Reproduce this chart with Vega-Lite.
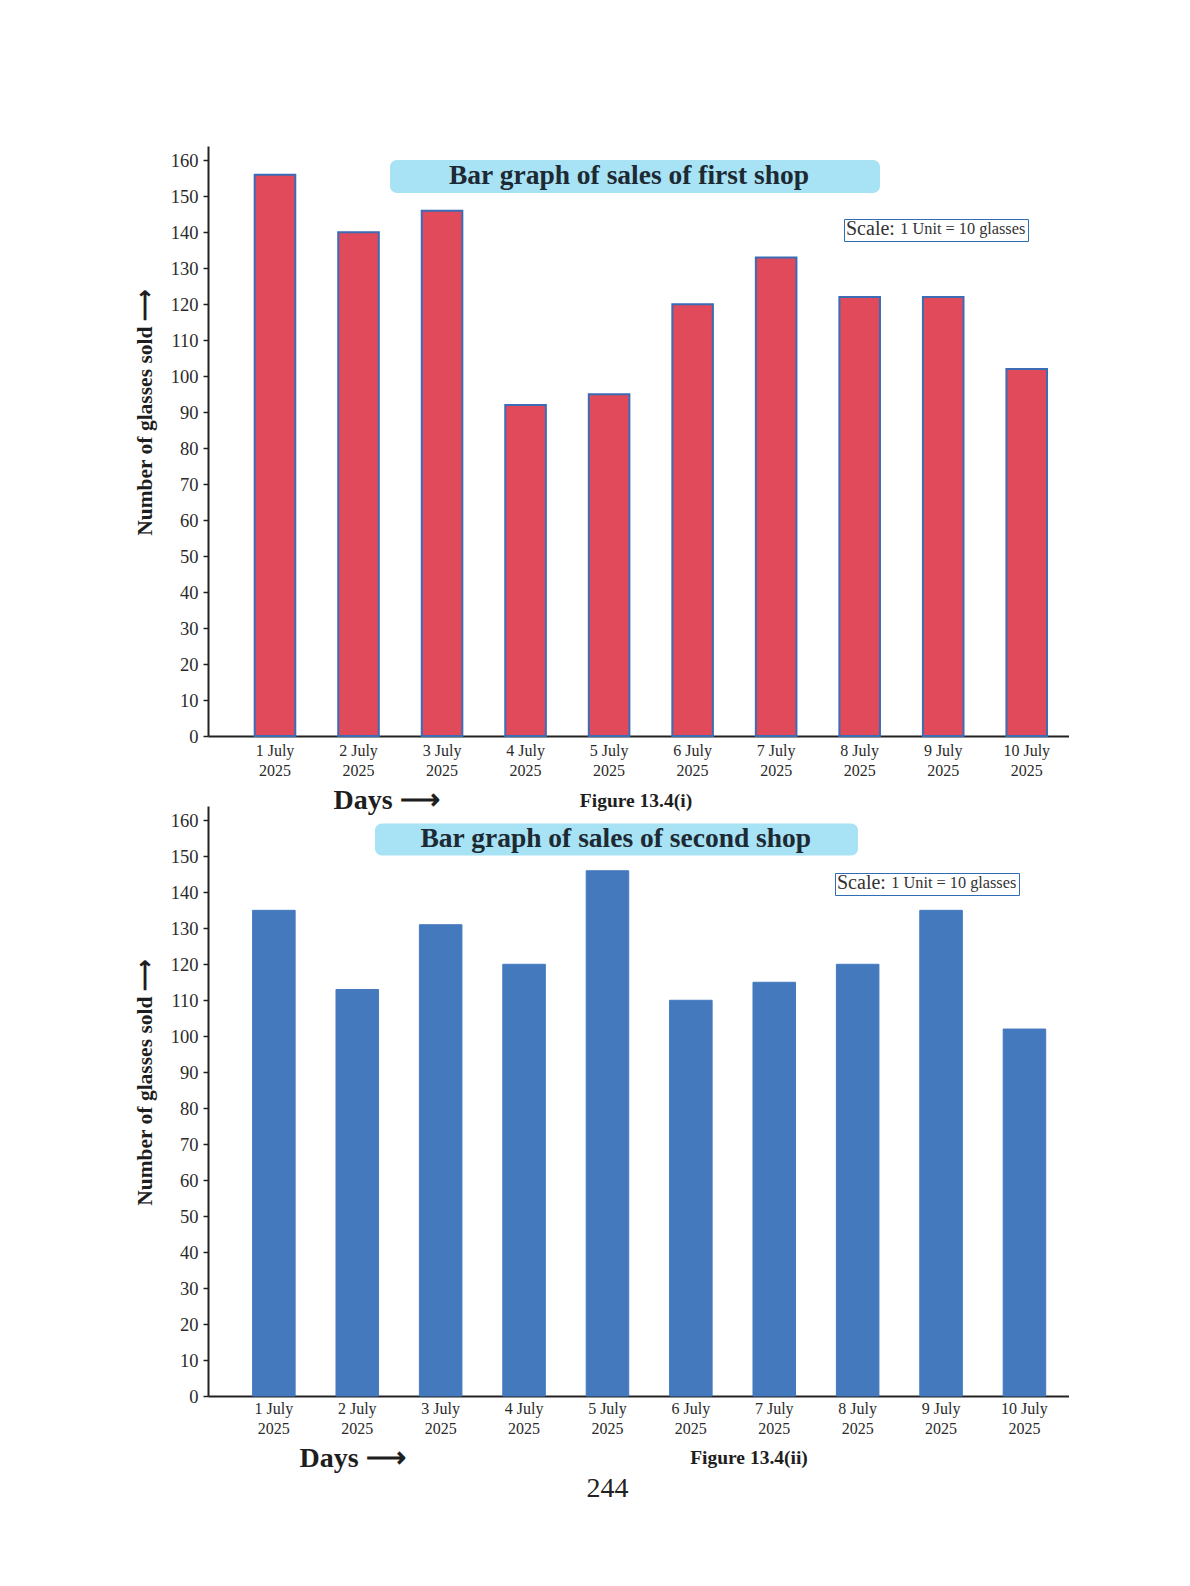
{
  "$schema": "https://vega.github.io/schema/vega-lite/v6.json",
  "background": "white",
  "padding": {"left": 134, "top": 146, "right": 0, "bottom": 0},
  "datasets": {
    "first": [
      {"day": "1 July 2025", "glasses": 156},
      {"day": "2 July 2025", "glasses": 140},
      {"day": "3 July 2025", "glasses": 146},
      {"day": "4 July 2025", "glasses": 92},
      {"day": "5 July 2025", "glasses": 95},
      {"day": "6 July 2025", "glasses": 120},
      {"day": "7 July 2025", "glasses": 133},
      {"day": "8 July 2025", "glasses": 122},
      {"day": "9 July 2025", "glasses": 122},
      {"day": "10 July 2025", "glasses": 102}
    ],
    "second": [
      {"day": "1 July 2025", "glasses": 135},
      {"day": "2 July 2025", "glasses": 113},
      {"day": "3 July 2025", "glasses": 131},
      {"day": "4 July 2025", "glasses": 120},
      {"day": "5 July 2025", "glasses": 146},
      {"day": "6 July 2025", "glasses": 110},
      {"day": "7 July 2025", "glasses": 115},
      {"day": "8 July 2025", "glasses": 120},
      {"day": "9 July 2025", "glasses": 135},
      {"day": "10 July 2025", "glasses": 102}
    ]
  },
  "config": {
    "font": "Liberation Serif",
    "view": {"stroke": null},
    "axis": {
      "domainColor": "#222222",
      "domainWidth": 2,
      "grid": false,
      "labelFont": "Liberation Serif",
      "labelColor": "#2a2a2a",
      "titleFont": "Liberation Serif",
      "titleColor": "#1e1e1e",
      "titleFontWeight": "bold"
    },
    "axisX": {
      "ticks": false,
      "labelAngle": 0,
      "labelFontSize": 16,
      "labelLineHeight": 20,
      "titleFontSize": 28,
      "titleAlign": "center",
      "titleBaseline": "middle"
    },
    "axisY": {
      "tickColor": "#222222",
      "tickSize": 5,
      "tickWidth": 1.5,
      "labelFontSize": 18.5,
      "labelPadding": 5,
      "titleFontSize": 21.5,
      "titleAngle": -90,
      "titleAlign": "center",
      "titleBaseline": "middle"
    },
    "legend": {
      "title": null,
      "orient": "none",
      "symbolSize": 0,
      "symbolOpacity": 0,
      "symbolStrokeWidth": 0,
      "symbolOffset": 0,
      "labelOffset": 0,
      "labelLimit": 1200,
      "labelFont": "Liberation Serif",
      "titleFont": "Liberation Serif"
    },
    "title": {
      "font": "Liberation Serif",
      "fontSize": 19.5,
      "fontWeight": "bold",
      "color": "#1e1e1e"
    }
  },
  "bounds": "flush",
  "spacing": 70,
  "title": {"text": "244", "orient": "bottom", "anchor": "middle", "dx": 6, "fontSize": 28, "fontWeight": "normal", "offset": 3, "color": "#222222"},
  "resolve": {
    "scale": {"x": "independent", "y": "independent", "fill": "independent", "stroke": "independent"},
    "legend": {"fill": "independent", "stroke": "independent"}
  },
  "vconcat": [
    {
      "width": 861,
      "height": 590,
      "data": {"name": "first"},
      "title": {"text": "Figure 13.4(i)", "orient": "bottom", "anchor": "start", "frame": "group", "align": "center", "dx": 428, "offset": -22},
      "mark": {"type": "bar", "strokeWidth": 2},
      "encoding": {
        "x": {
          "field": "day", "type": "ordinal", "sort": null,
          "scale": {"paddingInner": 0.514, "paddingOuter": 0.411, "align": 0.68},
          "axis": {"title": "Days ⟶", "titleX": 178, "titleY": 64, "labelPadding": 6,
            "labelExpr": "[replace(datum.value, ' 2025', ''), '2025']"}
        },
        "y": {
          "field": "glasses", "type": "quantitative",
          "scale": {"domain": [0, 164], "nice": false},
          "axis": {"title": "Number of glasses sold ⟶", "values": [0,10,20,30,40,50,60,70,80,90,100,110,120,130,140,150,160], "titleX": -63, "titleY": 266}
        },
        "fill": {
          "datum": "1 Unit = 10 glasses", "type": "nominal",
          "scale": {"range": ["#e04a5a"]},
          "legend": {"legendX": 636, "legendY": 73, "title": "Scale:", "titleOrient": "left", "titleFontSize": 20, "titleFontWeight": "normal", "titleColor": "#333333", "titlePadding": 2, "titleBaseline": "middle",
            "strokeColor": "#2f6db5", "fillColor": "#ffffff", "padding": 2, "labelFontSize": 16.3, "labelColor": "#333333", "labelOffset": -13,
            "encode": {"legend": {"update": {"strokeWidth": {"value": 2}}}}}
        },
        "stroke": {
          "datum": "Bar graph of sales of first shop", "type": "nominal",
          "scale": {"range": ["#3b6cb5"]},
          "legend": {"legendX": 182, "legendY": 14, "fillColor": "#a8e2f5", "cornerRadius": 7, "padding": 2.5,
            "labelFontSize": 27.5, "labelFontWeight": "bold", "labelColor": "#1d2a33", "labelOffset": 29,
            "title": "\u00a0", "titleOrient": "right", "titleFontSize": 1, "titlePadding": 68}
        }
      }
    },
    {
      "width": 861,
      "height": 590,
      "data": {"name": "second"},
      "title": {"text": "Figure 13.4(ii)", "orient": "bottom", "anchor": "start", "frame": "group", "align": "center", "dx": 541, "offset": -23},
      "mark": {"type": "bar", "strokeWidth": 1},
      "encoding": {
        "x": {
          "field": "day", "type": "ordinal", "sort": null,
          "scale": {"paddingInner": 0.49, "paddingOuter": 0.407, "align": 0.657},
          "axis": {"title": "Days ⟶", "titleX": 144, "titleY": 62, "labelPadding": 4,
            "labelExpr": "[replace(datum.value, ' 2025', ''), '2025']"}
        },
        "y": {
          "field": "glasses", "type": "quantitative",
          "scale": {"domain": [0, 164], "nice": false},
          "axis": {"title": "Number of glasses sold ⟶", "values": [0,10,20,30,40,50,60,70,80,90,100,110,120,130,140,150,160], "titleX": -63, "titleY": 276}
        },
        "fill": {
          "datum": "1 Unit = 10 glasses", "type": "nominal",
          "scale": {"range": ["#4479be"]},
          "legend": {"legendX": 627, "legendY": 67, "title": "Scale:", "titleOrient": "left", "titleFontSize": 20, "titleFontWeight": "normal", "titleColor": "#333333", "titlePadding": 2, "titleBaseline": "middle",
            "strokeColor": "#2f6db5", "fillColor": "#ffffff", "padding": 2, "labelFontSize": 16.3, "labelColor": "#333333", "labelOffset": -13,
            "encode": {"legend": {"update": {"strokeWidth": {"value": 2}}}}}
        },
        "stroke": {
          "datum": "Bar graph of sales of second shop", "type": "nominal",
          "scale": {"range": ["#4479be"]},
          "legend": {"legendX": 167, "legendY": 17.5, "fillColor": "#a8e2f5", "cornerRadius": 7, "padding": 2,
            "labelFontSize": 27.5, "labelFontWeight": "bold", "labelColor": "#1d2a33", "labelOffset": 16,
            "title": "\u00a0", "titleOrient": "right", "titleFontSize": 1, "titlePadding": 44}
        }
      }
    }
  ]
}
